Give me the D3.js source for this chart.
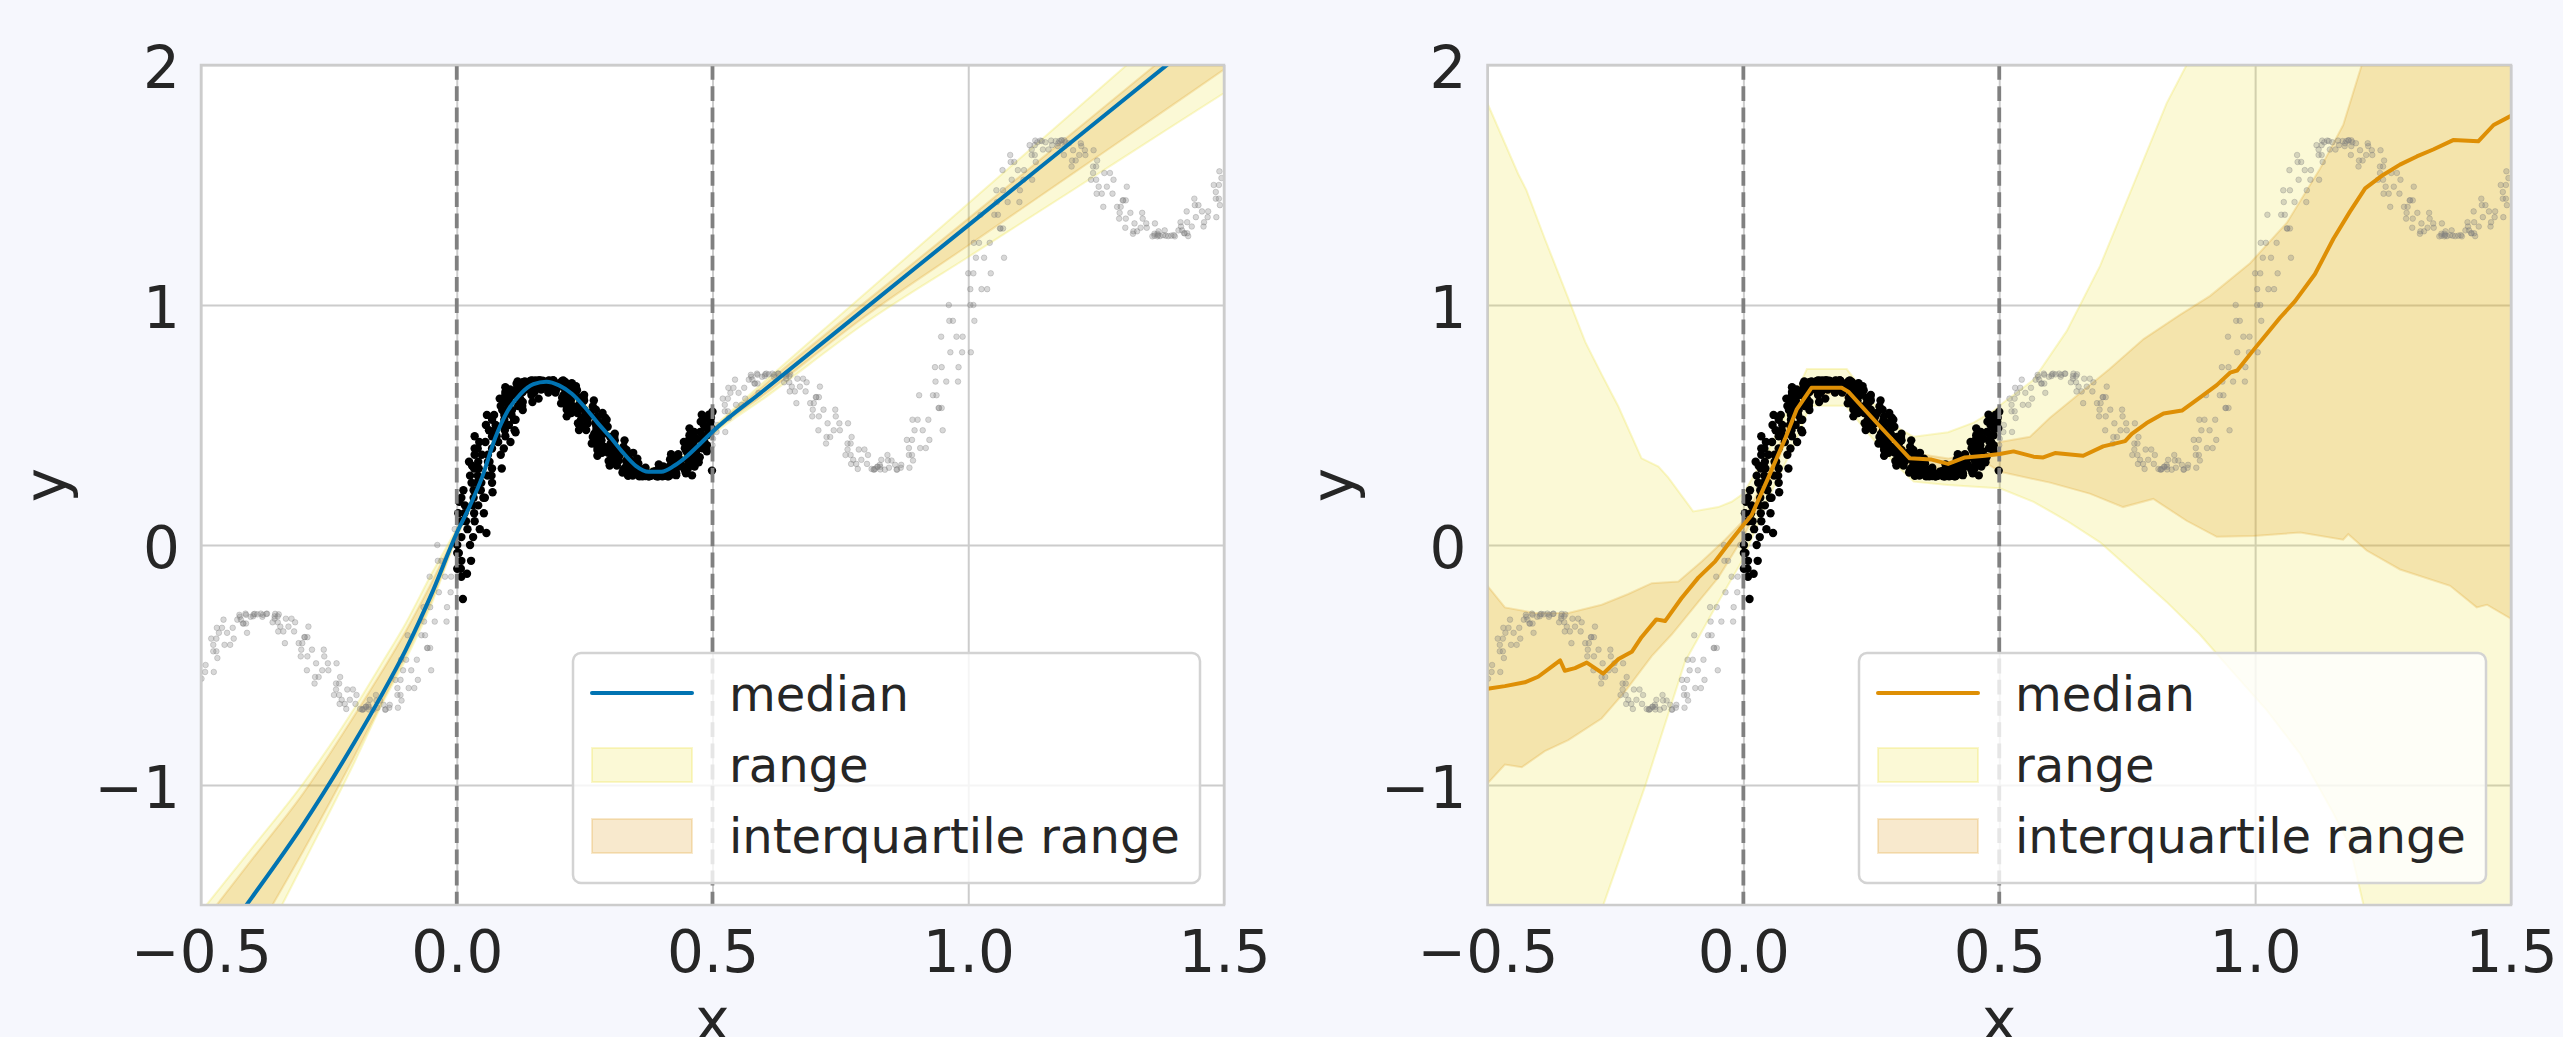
<!DOCTYPE html>
<html><head><meta charset="utf-8">
<script src="https://cdn.jsdelivr.net/npm/d3@7"></script>
<style>html,body{margin:0;padding:0;background:#f6f7fd;} svg{display:block;}</style>
</head><body><svg id="chart" width="2563" height="1037"></svg>
<script>
// ---------------- data ----------------
const xTicks = [-0.5, 0, 0.5, 1, 1.5];
const xTickLabels = ["−0.5", "0.0", "0.5", "1.0", "1.5"];
const yTicks = [-1, 0, 1, 2];
const yTickLabels = ["−1", "0", "1", "2"];
const legendLabels = ["median", "range", "interquartile range"];
const trainBounds = [0, 0.5];

// training observations (black)
const trainPoints = [
[0.001,-0.099],[0.009,-0.066],[0.004,-0.033],[0.001,0],[0.009,0.033],[0.021,0.066],[0.009,0.099],[0.035,0.099],[0.034,0.132],[0.003,0.132],
[0.016,0.165],[0.031,0.165],[0.033,0.197],[0.055,0.197],[0.013,0.228],[0.033,0.228],[0.048,0.259],[0.029,0.259],[0.041,0.289],[0.060,0.289],
[0.069,0.319],[0.043,0.319],[0.042,0.347],[0.064,0.347],[0.061,0.376],[0.035,0.376],[0.035,0.402],[0.069,0.402],[0.081,0.429],[0.056,0.429],
[0.069,0.453],[0.095,0.453],[0.094,0.478],[0.063,0.478],[0.076,0.5],[0.091,0.5],[0.093,0.522],[0.115,0.522],[0.073,0.542],[0.093,0.542],
[0.108,0.562],[0.089,0.562],[0.101,0.579],[0.120,0.579],[0.129,0.596],[0.103,0.596],[0.102,0.610],[0.124,0.610],[0.121,0.625],[0.095,0.625],
[0.095,0.637],[0.129,0.637],[0.141,0.648],[0.116,0.648],[0.129,0.657],[0.155,0.657],[0.154,0.666],[0.123,0.666],[0.136,0.672],[0.151,0.672],
[0.153,0.678],[0.175,0.678],[0.133,0.681],[0.153,0.681],[0.168,0.685],[0.149,0.685],[0.161,0.686],[0.180,0.686],[0.189,0.686],[0.163,0.686],
[0.162,0.684],[0.184,0.684],[0.181,0.683],[0.155,0.683],[0.155,0.679],[0.189,0.679],[0.201,0.674],[0.176,0.674],[0.189,0.668],[0.215,0.668],
[0.214,0.662],[0.183,0.662],[0.196,0.653],[0.211,0.653],[0.213,0.645],[0.235,0.645],[0.193,0.635],[0.213,0.635],[0.228,0.625],[0.209,0.625],
[0.221,0.614],[0.240,0.614],[0.249,0.602],[0.223,0.602],[0.222,0.590],[0.244,0.590],[0.241,0.577],[0.215,0.577],[0.215,0.564],[0.249,0.564],
[0.261,0.55],[0.236,0.55],[0.249,0.536],[0.275,0.536],[0.274,0.522],[0.243,0.522],[0.256,0.507],[0.271,0.507],[0.273,0.493],[0.295,0.493],
[0.253,0.479],[0.273,0.479],[0.288,0.464],[0.269,0.464],[0.281,0.450],[0.300,0.450],[0.309,0.436],[0.283,0.436],[0.282,0.423],[0.304,0.423],
[0.301,0.409],[0.275,0.409],[0.275,0.396],[0.309,0.396],[0.321,0.384],[0.296,0.384],[0.309,0.372],[0.335,0.372],[0.334,0.360],[0.303,0.360],
[0.316,0.350],[0.331,0.350],[0.333,0.340],[0.355,0.340],[0.313,0.331],[0.333,0.331],[0.348,0.322],[0.329,0.322],[0.341,0.315],[0.360,0.315],
[0.369,0.307],[0.343,0.307],[0.342,0.302],[0.364,0.302],[0.361,0.297],[0.335,0.297],[0.335,0.293],[0.369,0.293],[0.381,0.289],[0.356,0.289],
[0.369,0.288],[0.395,0.288],[0.394,0.286],[0.363,0.286],[0.376,0.286],[0.391,0.286],[0.393,0.287],[0.415,0.287],[0.373,0.289],[0.393,0.289],
[0.408,0.291],[0.389,0.291],[0.401,0.295],[0.420,0.295],[0.429,0.299],[0.403,0.299],[0.402,0.305],[0.424,0.305],[0.421,0.311],[0.395,0.311],
[0.395,0.319],[0.429,0.319],[0.441,0.327],[0.416,0.327],[0.429,0.336],[0.455,0.336],[0.454,0.345],[0.423,0.345],[0.436,0.356],[0.451,0.356],
[0.453,0.366],[0.475,0.366],[0.433,0.378],[0.453,0.378],[0.468,0.390],[0.449,0.390],[0.461,0.403],[0.480,0.403],[0.489,0.416],[0.463,0.416],
[0.462,0.429],[0.484,0.429],[0.481,0.443],[0.455,0.443],[0.455,0.457],[0.489,0.457],[0.476,0.471],[0.489,0.486],[0.483,0.5],[0.496,0.514],
[0.493,0.543],[0.012,-0.225],[0.058,0.05],[0.02,-0.12],[0.07,0.22],[0.115,0.47],[0.16,0.61],[0.29,0.53],[0.46,0.29],[0.497,0.53],
[0.5,0.555],[0.499,0.31],[0.005,0.18],[0.03,0.33],
[0.009,-0.132],[0.028,-0.066],[0.026,0],[0.045,0.066],[0.053,0.132],[0.052,0.197],[0.069,0.259],[0.026,0.289],[0.088,0.319],[0.024,0.347],
[0.086,0.376],[0.041,0.402],[0.105,0.429],[0.035,0.453],[0.113,0.478],[0.057,0.5],[0.112,0.522],[0.059,0.542],[0.129,0.562],[0.086,0.579],
[0.148,0.596],[0.084,0.610],[0.146,0.625],[0.101,0.637],[0.165,0.648],[0.095,0.657],[0.173,0.666],[0.117,0.672],[0.172,0.678],[0.119,0.681],
[0.189,0.685],[0.146,0.686],[0.208,0.686],[0.144,0.684],[0.206,0.683],[0.161,0.679],[0.225,0.674],[0.155,0.668],[0.233,0.662],[0.177,0.653],
[0.232,0.645],[0.179,0.635],[0.249,0.625],[0.206,0.614],[0.268,0.602],[0.204,0.590],[0.266,0.577],[0.221,0.564],[0.285,0.55],[0.215,0.536],
[0.293,0.522],[0.237,0.507],[0.292,0.493],[0.239,0.479],[0.309,0.464],[0.266,0.450],[0.328,0.436],[0.264,0.423],[0.326,0.409],[0.281,0.396],
[0.345,0.384],[0.275,0.372],[0.353,0.360],[0.297,0.350],[0.352,0.340],[0.299,0.331],[0.369,0.322],[0.326,0.315],[0.388,0.307],[0.324,0.302],
[0.386,0.297],[0.341,0.293],[0.405,0.289],[0.335,0.288],[0.413,0.286],[0.357,0.286],[0.412,0.287],[0.359,0.289],[0.429,0.291],[0.386,0.295],
[0.448,0.299],[0.384,0.305],[0.446,0.311],[0.401,0.319],[0.465,0.327],[0.395,0.336],[0.473,0.345],[0.417,0.356],[0.472,0.366],[0.419,0.378],
[0.489,0.390],[0.446,0.403],[0.444,0.429],[0.461,0.457],[0.455,0.486],[0.477,0.514],[0.479,0.543],
[0.008,-0.099],[0.001,-0.033],[0.032,0.033],[0.018,0.099],[0.015,0.132],[0.042,0.165],[0.009,0.197],[0.047,0.228],[0.039,0.259],[0.068,0.289],
[0.034,0.319],[0.061,0.347],[0.049,0.376],[0.092,0.402],[0.044,0.429],[0.078,0.453],[0.075,0.478],[0.102,0.5],[0.069,0.522],[0.107,0.542],
[0.099,0.562],[0.128,0.579],[0.094,0.596],[0.121,0.610],[0.109,0.625],[0.152,0.637],[0.104,0.648],[0.138,0.657],[0.135,0.666],[0.162,0.672],
[0.129,0.678],[0.167,0.681],[0.159,0.685],[0.188,0.686],[0.154,0.686],[0.181,0.684],[0.169,0.683],[0.212,0.679],[0.164,0.674],[0.198,0.668],
[0.195,0.662],[0.222,0.653],[0.189,0.645],[0.227,0.635],[0.219,0.625],[0.248,0.614],[0.214,0.602],[0.241,0.590],[0.229,0.577],[0.272,0.564],
[0.224,0.55],[0.258,0.536],[0.255,0.522],[0.282,0.507],[0.249,0.493],[0.287,0.479],[0.279,0.464],[0.308,0.450],[0.274,0.436],[0.301,0.423],
[0.289,0.409],[0.332,0.396],[0.284,0.384],[0.318,0.372],[0.315,0.360],[0.342,0.350],[0.309,0.340],[0.347,0.331],[0.339,0.322],[0.368,0.315],
[0.334,0.307],[0.361,0.302],[0.349,0.297],[0.392,0.293],[0.344,0.289],[0.378,0.288],[0.375,0.286],[0.402,0.286],[0.369,0.287],[0.407,0.289],
[0.399,0.291],[0.428,0.295],[0.394,0.299],[0.421,0.305],[0.409,0.311],[0.452,0.319],[0.404,0.327],[0.438,0.336],[0.435,0.345],[0.462,0.356],
[0.429,0.366],[0.467,0.378],[0.459,0.390],[0.488,0.403],[0.454,0.416],[0.481,0.429],[0.469,0.443],[0.464,0.471],[0.498,0.486],[0.495,0.5],
[0.489,0.529]
];

// test observations (grey)
const testPoints = [
[-0.499,-0.557],[-0.492,-0.529],[-0.491,-0.5],[-0.470,-0.443],[-0.476,-0.443],[-0.476,-0.416],[-0.454,-0.416],[-0.436,-0.390],[-0.470,-0.390],[-0.465,-0.366],
[-0.449,-0.366],[-0.438,-0.345],[-0.459,-0.345],[-0.417,-0.327],[-0.418,-0.327],[-0.429,-0.311],[-0.422,-0.311],[-0.403,-0.299],[-0.424,-0.299],[-0.412,-0.291],
[-0.379,-0.291],[-0.372,-0.287],[-0.395,-0.287],[-0.383,-0.286],[-0.371,-0.286],[-0.390,-0.289],[-0.397,-0.289],[-0.350,-0.297],[-0.356,-0.297],[-0.356,-0.307],
[-0.334,-0.307],[-0.316,-0.322],[-0.350,-0.322],[-0.345,-0.340],[-0.329,-0.340],[-0.318,-0.360],[-0.339,-0.360],[-0.297,-0.384],[-0.298,-0.384],[-0.309,-0.409],
[-0.302,-0.409],[-0.283,-0.436],[-0.304,-0.436],[-0.292,-0.464],[-0.259,-0.464],[-0.252,-0.493],[-0.275,-0.493],[-0.263,-0.522],[-0.251,-0.522],[-0.270,-0.55],
[-0.277,-0.55],[-0.230,-0.577],[-0.236,-0.577],[-0.236,-0.602],[-0.214,-0.602],[-0.196,-0.625],[-0.230,-0.625],[-0.225,-0.645],[-0.209,-0.645],[-0.198,-0.662],
[-0.219,-0.662],[-0.177,-0.674],[-0.178,-0.674],[-0.189,-0.683],[-0.182,-0.683],[-0.163,-0.686],[-0.184,-0.686],[-0.172,-0.685],[-0.139,-0.685],[-0.132,-0.678],
[-0.155,-0.678],[-0.143,-0.666],[-0.131,-0.666],[-0.150,-0.648],[-0.157,-0.648],[-0.110,-0.625],[-0.116,-0.625],[-0.116,-0.596],[-0.094,-0.596],[-0.076,-0.562],
[-0.110,-0.562],[-0.105,-0.522],[-0.089,-0.522],[-0.078,-0.478],[-0.099,-0.478],[-0.057,-0.429],[-0.058,-0.429],[-0.069,-0.376],[-0.062,-0.376],[-0.043,-0.319],
[-0.064,-0.319],[-0.052,-0.259],[-0.019,-0.259],[-0.012,-0.197],[-0.035,-0.197],[-0.023,-0.132],[-0.011,-0.132],[-0.030,-0.066],[-0.037,-0.066],[-0.006,0.0],
[-0.004,0.066],
[-0.475,-0.529],[-0.468,-0.471],[-0.443,-0.416],[-0.480,-0.390],[-0.410,-0.366],[-0.469,-0.345],[-0.412,-0.327],[-0.456,-0.311],[-0.380,-0.299],[-0.425,-0.291],
[-0.355,-0.287],[-0.413,-0.286],[-0.348,-0.289],[-0.398,-0.297],[-0.323,-0.307],[-0.360,-0.322],[-0.290,-0.340],[-0.349,-0.360],[-0.292,-0.384],[-0.336,-0.409],
[-0.260,-0.436],[-0.305,-0.464],[-0.235,-0.493],[-0.293,-0.522],[-0.228,-0.55],[-0.278,-0.577],[-0.203,-0.602],[-0.240,-0.625],[-0.170,-0.645],[-0.229,-0.662],
[-0.172,-0.674],[-0.216,-0.683],[-0.140,-0.686],[-0.185,-0.685],[-0.115,-0.678],[-0.173,-0.666],[-0.108,-0.648],[-0.158,-0.625],[-0.083,-0.596],[-0.120,-0.562],
[-0.050,-0.522],[-0.109,-0.478],[-0.052,-0.429],[-0.096,-0.376],[-0.020,-0.319],[-0.065,-0.259],[-0.053,-0.132],[-0.038,0.0],
[0.501,0.443],[0.508,0.471],[0.509,0.5],[0.530,0.557],[0.524,0.557],[0.524,0.584],[0.546,0.584],[0.564,0.610],[0.530,0.610],[0.535,0.634],
[0.551,0.634],[0.562,0.655],[0.541,0.655],[0.583,0.673],[0.582,0.673],[0.571,0.689],[0.578,0.689],[0.597,0.701],[0.576,0.701],[0.588,0.709],
[0.621,0.709],[0.628,0.714],[0.605,0.714],[0.617,0.714],[0.629,0.714],[0.610,0.711],[0.603,0.711],[0.650,0.704],[0.644,0.704],[0.644,0.693],
[0.666,0.693],[0.684,0.678],[0.650,0.678],[0.655,0.660],[0.671,0.660],[0.682,0.640],[0.661,0.640],[0.703,0.616],[0.702,0.616],[0.691,0.591],
[0.698,0.591],[0.717,0.564],[0.696,0.564],[0.708,0.536],[0.741,0.536],[0.748,0.507],[0.725,0.507],[0.737,0.478],[0.749,0.478],[0.730,0.45],
[0.723,0.45],[0.770,0.423],[0.764,0.423],[0.764,0.398],[0.786,0.398],[0.804,0.375],[0.770,0.375],[0.775,0.355],[0.791,0.355],[0.802,0.338],
[0.781,0.338],[0.823,0.326],[0.822,0.326],[0.811,0.317],[0.818,0.317],[0.837,0.314],[0.816,0.314],[0.828,0.315],[0.861,0.315],[0.868,0.322],
[0.845,0.322],[0.857,0.334],[0.869,0.334],[0.850,0.352],[0.843,0.352],[0.890,0.375],[0.884,0.375],[0.884,0.404],[0.906,0.404],[0.924,0.438],
[0.890,0.438],[0.895,0.478],[0.911,0.478],[0.922,0.522],[0.901,0.522],[0.943,0.571],[0.942,0.571],[0.931,0.624],[0.938,0.624],[0.957,0.681],
[0.936,0.681],[0.948,0.741],[0.981,0.741],[0.988,0.803],[0.965,0.803],[0.977,0.868],[0.989,0.868],[0.970,0.934],[0.963,0.934],[1.010,1.0],
[1.004,1.0],[1.004,1.066],[1.026,1.066],[1.044,1.132],[1.010,1.132],[1.015,1.197],[1.031,1.197],[1.042,1.259],[1.021,1.259],[1.063,1.319],
[1.062,1.319],[1.051,1.376],[1.058,1.376],[1.077,1.429],[1.056,1.429],[1.068,1.478],[1.101,1.478],[1.108,1.522],[1.085,1.522],[1.097,1.562],
[1.109,1.562],[1.090,1.596],[1.083,1.596],[1.130,1.625],[1.124,1.625],[1.124,1.648],[1.146,1.648],[1.164,1.666],[1.130,1.666],[1.135,1.678],
[1.151,1.678],[1.162,1.685],[1.141,1.685],[1.183,1.686],[1.182,1.686],[1.171,1.683],[1.178,1.683],[1.197,1.674],[1.176,1.674],[1.188,1.662],
[1.221,1.662],[1.228,1.645],[1.205,1.645],[1.217,1.625],[1.229,1.625],[1.210,1.602],[1.203,1.602],[1.250,1.577],[1.244,1.577],[1.244,1.55],
[1.266,1.55],[1.284,1.522],[1.250,1.522],[1.255,1.493],[1.271,1.493],[1.282,1.464],[1.261,1.464],[1.303,1.436],[1.302,1.436],[1.291,1.409],
[1.298,1.409],[1.317,1.384],[1.296,1.384],[1.308,1.360],[1.341,1.360],[1.348,1.340],[1.325,1.340],[1.337,1.322],[1.349,1.322],[1.330,1.307],
[1.323,1.307],[1.370,1.297],[1.364,1.297],[1.364,1.289],[1.386,1.289],[1.404,1.286],[1.370,1.286],[1.375,1.287],[1.391,1.287],[1.402,1.291],
[1.381,1.291],[1.423,1.299],[1.422,1.299],[1.411,1.311],[1.418,1.311],[1.437,1.327],[1.416,1.327],[1.428,1.345],[1.461,1.345],[1.468,1.366],
[1.445,1.366],[1.457,1.390],[1.469,1.390],[1.450,1.416],[1.443,1.416],[1.490,1.443],[1.484,1.443],[1.484,1.471],[1.490,1.5],[1.495,1.529],
[0.500,0.416],[0.525,0.471],[0.532,0.529],[0.557,0.584],[0.520,0.610],[0.590,0.634],[0.531,0.655],[0.588,0.673],[0.544,0.689],[0.620,0.701],
[0.575,0.709],[0.645,0.714],[0.587,0.714],[0.652,0.711],[0.602,0.704],[0.677,0.693],[0.640,0.678],[0.710,0.660],[0.651,0.640],[0.708,0.616],
[0.664,0.591],[0.740,0.564],[0.695,0.536],[0.765,0.507],[0.707,0.478],[0.772,0.45],[0.722,0.423],[0.797,0.398],[0.760,0.375],[0.830,0.355],
[0.771,0.338],[0.828,0.326],[0.784,0.317],[0.860,0.314],[0.815,0.315],[0.885,0.322],[0.827,0.334],[0.892,0.352],[0.842,0.375],[0.917,0.404],
[0.880,0.438],[0.950,0.478],[0.891,0.522],[0.948,0.571],[0.904,0.624],[0.980,0.681],[0.935,0.741],[1.005,0.803],[0.947,0.868],[1.012,0.934],
[0.962,1.0],[1.037,1.066],[1.000,1.132],[1.070,1.197],[1.011,1.259],[1.068,1.319],[1.024,1.376],[1.100,1.429],[1.055,1.478],[1.125,1.522],
[1.067,1.562],[1.132,1.596],[1.082,1.625],[1.157,1.648],[1.120,1.666],[1.190,1.678],[1.131,1.685],[1.188,1.686],[1.144,1.683],[1.220,1.674],
[1.175,1.662],[1.245,1.645],[1.187,1.625],[1.252,1.602],[1.202,1.577],[1.277,1.55],[1.240,1.522],[1.310,1.493],[1.251,1.464],[1.308,1.436],
[1.264,1.409],[1.340,1.384],[1.295,1.360],[1.365,1.340],[1.307,1.322],[1.372,1.307],[1.322,1.297],[1.397,1.289],[1.360,1.286],[1.430,1.287],
[1.371,1.291],[1.428,1.299],[1.384,1.311],[1.460,1.327],[1.415,1.345],[1.485,1.366],[1.427,1.390],[1.492,1.416],[1.442,1.443],[1.480,1.5],
[1.491,1.557]
];

// left model: smooth predictions on a shared x grid
const leftX = [-0.5,-0.4,-0.3,-0.2,-0.15,-0.1,-0.05,0,0.025,0.05,0.075,0.1,0.125,0.15,0.175,0.2,0.225,0.25,0.275,0.3,0.325,0.35,0.375,0.4,0.425,0.45,0.475,0.5,0.6,0.8,1.0,1.2,1.4,1.5];
const leftMedian = [-1.757,-1.467,-1.164,-0.822,-0.637,-0.438,-0.208,0.05,0.16,0.285,0.445,0.56,0.63,0.67,0.68,0.665,0.63,0.575,0.51,0.45,0.385,0.33,0.305,0.305,0.33,0.37,0.42,0.472,0.644,0.988,1.332,1.676,2.02,2.192];
const leftRangeLo = [-2.157,-1.742,-1.327,-0.905,-0.68,-0.478,-0.25,0.03,0.145,0.27,0.43,0.545,0.615,0.655,0.665,0.65,0.615,0.56,0.495,0.435,0.37,0.315,0.29,0.29,0.315,0.355,0.405,0.457,0.61,0.927,1.20,1.473,1.747,1.883];
const leftRangeHi = [-1.528,-1.262,-0.993,-0.680,-0.505,-0.327,-0.123,0.07,0.175,0.30,0.46,0.575,0.645,0.685,0.695,0.68,0.645,0.59,0.525,0.465,0.40,0.345,0.32,0.32,0.345,0.385,0.435,0.487,0.678,1.051,1.423,1.795,2.168,2.354];
const leftIqrLo = [-2.04,-1.649,-1.275,-0.88,-0.67,-0.46,-0.235,0.035,0.153,0.278,0.438,0.553,0.623,0.663,0.673,0.658,0.623,0.568,0.503,0.443,0.378,0.323,0.298,0.298,0.323,0.363,0.413,0.465,0.625,0.955,1.248,1.541,1.834,1.981];
const leftIqrHi = [-1.584,-1.309,-1.034,-0.71,-0.54,-0.36,-0.16,0.06,0.167,0.292,0.452,0.567,0.637,0.677,0.687,0.672,0.637,0.582,0.517,0.457,0.392,0.337,0.312,0.312,0.337,0.377,0.427,0.479,0.665,1.015,1.36,1.71,2.06,2.235];

// right model: jagged predictions [x, y]
const rightMedian = [[-0.5,-0.599],[-0.466,-0.588],[-0.427,-0.572],[-0.401,-0.549],[-0.375,-0.508],[-0.358,-0.481],[-0.349,-0.524],[-0.329,-0.513],[-0.306,-0.490],[-0.274,-0.536],[-0.244,-0.475],[-0.218,-0.445],[-0.199,-0.384],[-0.170,-0.310],[-0.153,-0.317],[-0.121,-0.222],[-0.088,-0.136],[-0.055,-0.068],[-0.023,0.022],[0.0,0.083],[0.016,0.124],[0.049,0.282],[0.081,0.440],[0.104,0.564],[0.133,0.655],[0.192,0.655],[0.205,0.639],[0.264,0.501],[0.325,0.361],[0.368,0.356],[0.400,0.338],[0.433,0.365],[0.472,0.372],[0.501,0.379],[0.528,0.390],[0.567,0.368],[0.586,0.365],[0.609,0.383],[0.664,0.372],[0.703,0.411],[0.746,0.433],[0.759,0.463],[0.788,0.508],[0.821,0.548],[0.857,0.560],[0.892,0.614],[0.925,0.666],[0.951,0.718],[0.965,0.727],[0.997,0.813],[1.023,0.880],[1.049,0.948],[1.078,1.016],[1.117,1.129],[1.153,1.276],[1.185,1.388],[1.215,1.486],[1.250,1.542],[1.283,1.585],[1.316,1.619],[1.348,1.648],[1.387,1.687],[1.436,1.682],[1.466,1.750],[1.5,1.788]];
const rightRangeHi = [[-0.5,1.84],[-0.44,1.546],[-0.424,1.479],[-0.388,1.276],[-0.342,1.027],[-0.309,0.846],[-0.277,0.711],[-0.244,0.576],[-0.199,0.361],[-0.166,0.327],[-0.147,0.282],[-0.098,0.140],[-0.049,0.158],[-0.023,0.180],[0.0,0.214],[0.05,0.40],[0.1,0.62],[0.124,0.733],[0.202,0.733],[0.25,0.60],[0.3,0.49],[0.333,0.451],[0.4,0.47],[0.45,0.51],[0.491,0.562],[0.5,0.58],[0.567,0.688],[0.632,0.892],[0.697,1.163],[0.762,1.501],[0.827,1.840],[0.866,2.0],[1.0,2.5],[1.5,3.0]];
const rightRangeLo = [[-0.5,-2.87],[-0.4,-2.27],[-0.277,-1.52],[-0.192,-1.005],[-0.114,-0.486],[-0.049,-0.237],[0.0,-0.057],[0.05,0.2],[0.1,0.42],[0.13,0.58],[0.2,0.58],[0.25,0.45],[0.3,0.33],[0.333,0.264],[0.4,0.25],[0.491,0.237],[0.5,0.237],[0.567,0.180],[0.632,0.101],[0.697,0.011],[0.762,-0.113],[0.827,-0.237],[0.892,-0.373],[0.957,-0.531],[1.023,-0.689],[1.088,-0.870],[1.153,-1.118],[1.185,-1.254],[1.212,-1.502],[1.3,-1.9],[1.5,-2.5]];
const rightIqrHi = [[-0.5,-0.170],[-0.466,-0.260],[-0.407,-0.283],[-0.342,-0.283],[-0.277,-0.249],[-0.225,-0.204],[-0.179,-0.159],[-0.127,-0.152],[-0.081,-0.068],[-0.036,0.022],[0.0,0.101],[0.05,0.31],[0.1,0.58],[0.133,0.675],[0.192,0.675],[0.264,0.525],[0.325,0.385],[0.4,0.36],[0.472,0.395],[0.5015,0.429],[0.560,0.451],[0.599,0.530],[0.716,0.734],[0.782,0.858],[0.853,0.959],[0.912,1.038],[0.990,1.174],[1.062,1.343],[1.127,1.569],[1.172,1.750],[1.208,1.998],[1.3,2.3],[1.5,2.8]];
const rightIqrLo = [[-0.5,-0.994],[-0.466,-0.915],[-0.433,-0.926],[-0.388,-0.859],[-0.342,-0.813],[-0.277,-0.723],[-0.231,-0.610],[-0.179,-0.463],[-0.140,-0.373],[-0.088,-0.237],[-0.049,-0.136],[0.0,0.033],[0.05,0.25],[0.1,0.53],[0.133,0.63],[0.192,0.63],[0.264,0.475],[0.325,0.335],[0.4,0.31],[0.472,0.345],[0.5015,0.305],[0.599,0.260],[0.677,0.214],[0.742,0.158],[0.801,0.192],[0.866,0.101],[0.925,0.034],[0.997,0.038],[1.088,0.052],[1.172,0.022],[1.182,0.045],[1.218,-0.023],[1.283,-0.102],[1.381,-0.170],[1.433,-0.260],[1.453,-0.249],[1.498,-0.305],[1.5,-0.31]];

// ---------------- drawing ----------------
const W = 2563, H = 1037;
const Y0 = 65, Y1 = 905;
const FONT = "DejaVu Sans, sans-serif";
const TEXT = "#262626";
const rangeColor = "#ece133", iqrColor = "#de8f05";

const svg = d3.select("#chart");
svg.append("rect").attr("width", W).attr("height", H).attr("fill", "#f6f7fd");

const panels = [
  {id: "L", x0: 201, x1: 1224, color: "#0173b2", legendX: 573},
  {id: "R", x0: 1487.5, x1: 2511, color: "#de8f05", legendX: 1859}
];

panels.forEach(p => {
  const x = d3.scaleLinear().domain([-0.5, 1.5]).range([p.x0, p.x1]);
  const y = d3.scaleLinear().domain([-1.5, 2]).range([Y1, Y0]);
  const g = svg.append("g");

  g.append("rect").attr("x", p.x0).attr("y", Y0).attr("width", p.x1 - p.x0).attr("height", Y1 - Y0).attr("fill", "#ffffff");

  // axes + grid
  const gx = g.append("g").attr("transform", `translate(0,${Y1})`)
    .call(d3.axisBottom(x).tickValues(xTicks).tickFormat((d, i) => xTickLabels[i]).tickSize(-(Y1 - Y0)).tickPadding(26));
  const gy = g.append("g").attr("transform", `translate(${p.x0},0)`)
    .call(d3.axisLeft(y).tickValues(yTicks).tickFormat((d, i) => yTickLabels[i]).tickSize(-(p.x1 - p.x0)).tickPadding(21));
  [gx, gy].forEach(a => {
    a.select(".domain").remove();
    a.selectAll(".tick line").attr("stroke", "#cccccc").attr("stroke-width", 2);
    a.selectAll(".tick text").attr("font-size", 58).attr("font-family", FONT).attr("fill", TEXT);
  });
  gy.selectAll(".tick text").attr("dy", "0.38em");

  // axis labels
  g.append("text").attr("x", (p.x0 + p.x1) / 2).attr("y", 1040).attr("text-anchor", "middle")
    .attr("font-size", 58).attr("font-family", FONT).attr("fill", TEXT).text("x");
  g.append("text").attr("transform", `translate(${p.x0 - 135},${(Y0 + Y1) / 2}) rotate(-90)`).attr("text-anchor", "middle")
    .attr("font-size", 58).attr("font-family", FONT).attr("fill", TEXT).text("y");

  // clipped data layer
  const clipId = "clip" + p.id;
  svg.append("clipPath").attr("id", clipId).append("rect")
    .attr("x", p.x0).attr("y", Y0).attr("width", p.x1 - p.x0).attr("height", Y1 - Y0);
  const d = g.append("g").attr("clip-path", `url(#${clipId})`);

  let rangePath, iqrPath, medianPath;
  if (p.id === "L") {
    const band = (lo, hi) => d3.area().x((v, i) => x(leftX[i])).y0((v, i) => y(lo[i])).y1((v, i) => y(hi[i])).curve(d3.curveMonotoneX)(leftX);
    rangePath = band(leftRangeLo, leftRangeHi);
    iqrPath = band(leftIqrLo, leftIqrHi);
    medianPath = d3.line().x((v, i) => x(leftX[i])).y((v, i) => y(leftMedian[i])).curve(d3.curveMonotoneX)(leftX);
  } else {
    const line = d3.line().x(q => x(q[0])).y(q => y(q[1]));
    const poly = (hi, lo) => line(hi.concat(lo.slice().reverse())) + "Z";
    rangePath = poly(rightRangeHi, rightRangeLo);
    iqrPath = poly(rightIqrHi, rightIqrLo);
    medianPath = line(rightMedian);
  }
  d.append("path").attr("d", rangePath).attr("fill", rangeColor).attr("fill-opacity", 0.2)
    .attr("stroke", rangeColor).attr("stroke-opacity", 0.25).attr("stroke-width", 2);
  d.append("path").attr("d", iqrPath).attr("fill", iqrColor).attr("fill-opacity", 0.2)
    .attr("stroke", iqrColor).attr("stroke-opacity", 0.2).attr("stroke-width", 2);

  d.append("g").selectAll("circle").data(testPoints).join("circle")
    .attr("cx", q => x(q[0])).attr("cy", q => y(q[1])).attr("r", 2.8)
    .attr("fill", "#7f7f7f").attr("fill-opacity", 0.3).attr("stroke", "#7f7f7f").attr("stroke-opacity", 0.3).attr("stroke-width", 1);
  d.append("g").selectAll("circle").data(trainPoints).join("circle")
    .attr("cx", q => x(q[0])).attr("cy", q => y(q[1])).attr("r", 4.2).attr("fill", "#000000");

  trainBounds.forEach(b => {
    d.append("line").attr("x1", x(b)).attr("x2", x(b)).attr("y1", Y0).attr("y2", Y1)
      .attr("stroke", "#808080").attr("stroke-width", 3.8).attr("stroke-dasharray", "14.8 6.4");
  });

  d.append("path").attr("d", medianPath).attr("fill", "none").attr("stroke", p.color)
    .attr("stroke-width", 4).attr("stroke-linejoin", "round").attr("stroke-linecap", "round");

  // spines
  g.append("rect").attr("x", p.x0).attr("y", Y0).attr("width", p.x1 - p.x0).attr("height", Y1 - Y0)
    .attr("fill", "none").attr("stroke", "#cccccc").attr("stroke-width", 2.5);

  // legend
  const lg = g.append("g").attr("transform", `translate(${p.legendX},653)`);
  lg.append("rect").attr("width", 627).attr("height", 230).attr("rx", 8).attr("ry", 8)
    .attr("fill", "#ffffff").attr("fill-opacity", 0.8).attr("stroke", "#d3d3d3").attr("stroke-width", 2.5);
  lg.append("line").attr("x1", 19).attr("x2", 119).attr("y1", 40).attr("y2", 40)
    .attr("stroke", p.color).attr("stroke-width", 4).attr("stroke-linecap", "round");
  lg.append("rect").attr("x", 19).attr("y", 95).attr("width", 100).attr("height", 34)
    .attr("fill", rangeColor).attr("fill-opacity", 0.2).attr("stroke", rangeColor).attr("stroke-opacity", 0.25).attr("stroke-width", 2);
  lg.append("rect").attr("x", 19).attr("y", 166).attr("width", 100).attr("height", 34)
    .attr("fill", iqrColor).attr("fill-opacity", 0.2).attr("stroke", iqrColor).attr("stroke-opacity", 0.2).attr("stroke-width", 2);
  legendLabels.forEach((t, i) => {
    lg.append("text").attr("x", 156).attr("y", 58 + 71 * i).attr("font-size", 48).attr("font-family", FONT)
      .attr("fill", TEXT).text(t);
  });
});
</script>
</body></html>
